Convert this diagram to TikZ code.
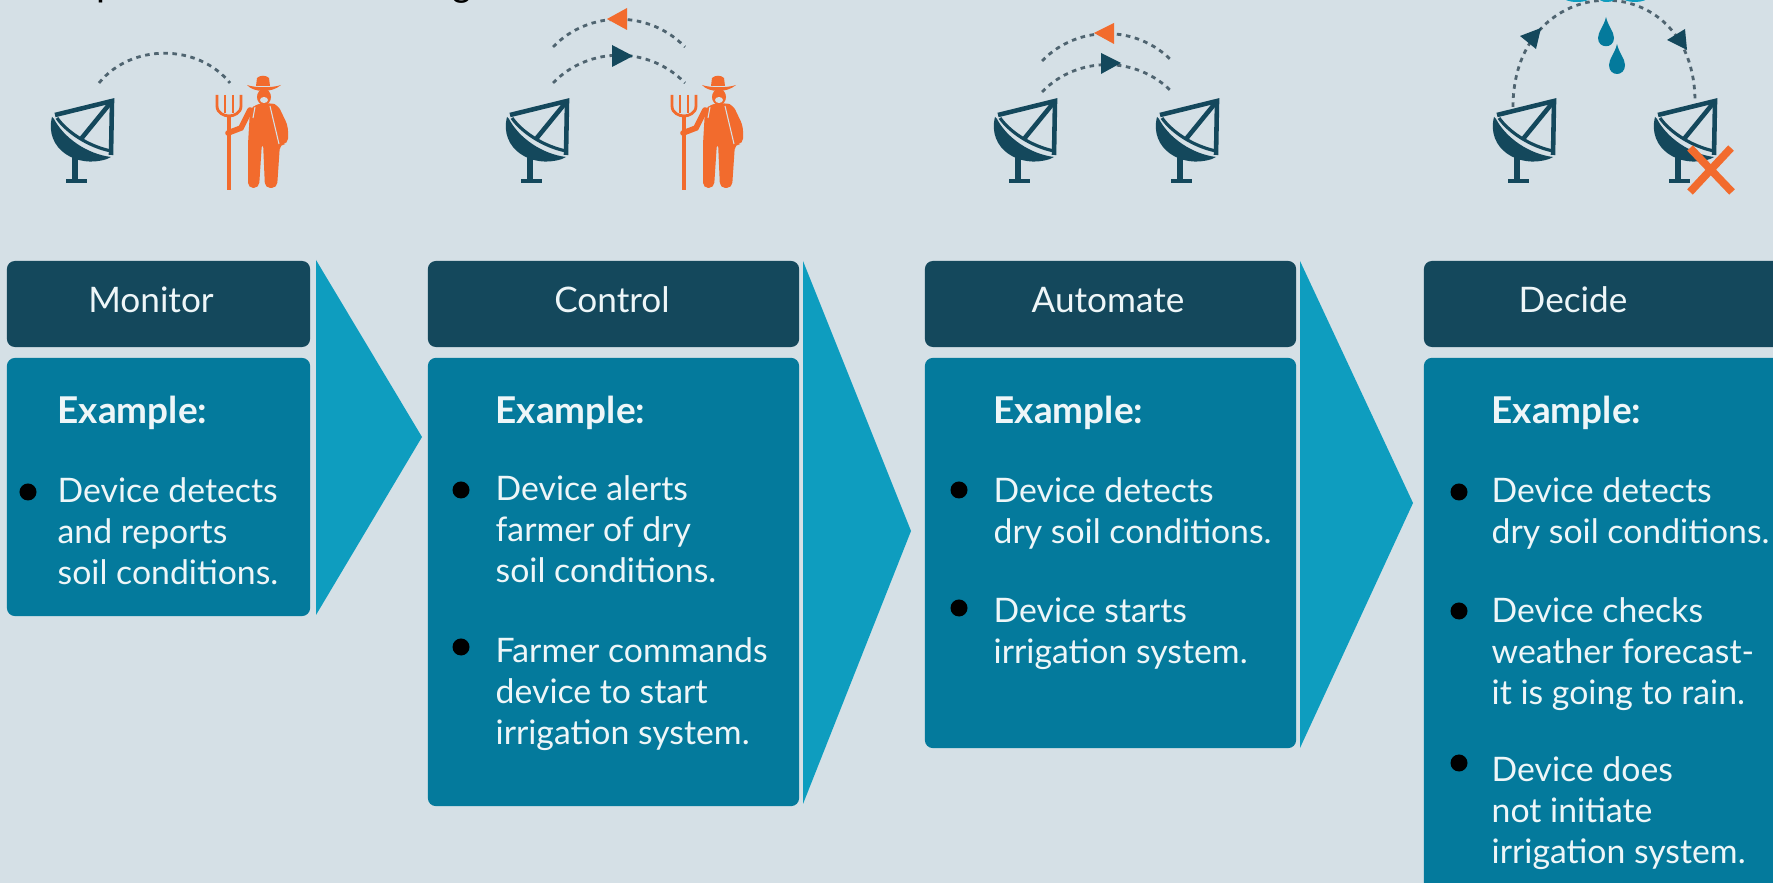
\documentclass[tikz,border=0pt]{standalone}
\usepackage{fontspec}
\setmainfont{Lato}
\newfontfamily\topfont{Carlito}
\definecolor{bgcol}{HTML}{D5E0E6}
\definecolor{hdrcol}{HTML}{14485C}
\definecolor{bodycol}{HTML}{047A9C}
\definecolor{chevcol}{HTML}{0E9DBF}
\definecolor{orangecol}{HTML}{F26B2D}
\definecolor{arccol}{HTML}{4F6470}
\definecolor{textcol}{HTML}{EEF6F8}
\tikzset{
  hdrbox/.style={rectangle, fill=hdrcol, rounded corners=0.08cm, minimum height=0.86cm, inner sep=0pt},
  bodybox/.style={rectangle, fill=bodycol, rounded corners=0.08cm, inner sep=0pt},
  hdrtext/.style={text=textcol, font=\fontsize{10}{12}\selectfont, inner sep=0pt},
  extext/.style={text=textcol, font=\fontsize{10.5}{12}\bfseries\selectfont, anchor=base west, inner sep=0pt},
  itemtext/.style={text=textcol, font=\fontsize{9.6}{11.6}\selectfont, anchor=north west, align=left, inner sep=0pt},
  bulletdot/.style={circle, fill=black, minimum size=0.17cm, inner sep=0pt},
  arcline/.style={draw=arccol, line width=0.8pt, dash pattern=on 1.3pt off 1.3pt},
  dish/.pic={
    \draw[hdrcol, line width=1.3pt, line join=miter] (-57,14) -- (0,0) -- (-1,54);
    \draw[hdrcol, line width=1.3pt] (0,0) -- (-31,38);
    \draw[hdrcol, line width=0.9pt] (-55,17) .. controls (-46,30) and (-25,45) .. (-1,50);
    \fill[hdrcol] (-60,16) .. controls (-68,48) and (-35,68) .. (-5,58) -- (-1,56) .. controls (-25,53) and (-48,37) .. (-58,18) -- cycle;
    \draw[hdrcol, line width=1.7pt] (-37,55) -- (-37,79);
    \draw[hdrcol, line width=1.1pt] (-46,80) -- (-25,80);
  },
  farmer/.pic={
    % hat
    \fill[orangecol] (-7,10) -- (-6,2) .. controls (-3,-1) and (3,-1) .. (6,2) -- (7,10) -- cycle;
    \fill[orangecol] (-16,9) .. controls (-9,17) and (9,17) .. (18,9) .. controls (10,12) and (-8,12) .. (-16,9) -- cycle;
    % head
    \fill[orangecol] (1,21) ellipse (7 and 8);
    \fill[bgcol] (1,24) ellipse (4 and 3);
    % body
    \fill[orangecol, rounded corners=1.5pt] (-7,28) -- (-13,34) -- (-15,68) -- (-15,112) -- (-4,112) -- (-1,66) -- (0,66) -- (2,112) -- (14,112) -- (17,68) -- (25,68) -- (25,50) -- (15,29) -- (7,27) -- cycle;
    \draw[bgcol, line width=0.3pt] (7,30) -- (16,68);
    \draw[bgcol, line width=0.3pt] (-8,31) -- (-10,42);
    % arm
    \draw[orangecol, line width=1.6pt, line cap=round] (-13,34) -- (-22,52) -- (-35,57);
    % fork
    \draw[orangecol, line width=0.9pt] (-34,40) -- (-34,114);
    \draw[orangecol, line width=0.8pt] (-46,19) -- (-46,30) .. controls (-46,37) and (-39,40) .. (-34,40) .. controls (-29,40) and (-22,37) .. (-22,30) -- (-22,19);
    \draw[orangecol, line width=0.8pt] (-38,19) -- (-38,37);
    \draw[orangecol, line width=0.8pt] (-30,19) -- (-30,37);
  }
}

\begin{document}
\begin{tikzpicture}[x=0.01cm, y=-0.01cm]
  \useasboundingbox (0,0) rectangle (1773,883);
  \clip (0,0) rectangle (1773,883);
  \fill[bgcol] (0,0) rectangle (1773,883);

  % cut off title line
  \node[font=\topfont\fontsize{11.4}{13}\selectfont, anchor=base, inner sep=0pt] (toppee) at (107,-3) {p};
  \node[font=\topfont\fontsize{11.4}{13}\selectfont, anchor=base, inner sep=0pt] (topgee) at (462,-3) {g};

  % monitor
  \pic (dish1) at (112,101) {dish};
  \pic (farmer1) at (263,76) {farmer};
  \coordinate (arc1a) at (99,83);
  \coordinate (arc1b) at (230,83);
  \path[arcline] (arc1a) to[bend left=51] (arc1b);

  \node[hdrbox, minimum width=3.03cm] (hdr1) at (158.5,304) {};
  \node[hdrtext] (hdrlabel1) at (151,300) {Monitor};
  \node[bodybox, minimum width=3.03cm, minimum height=2.58cm] (body1) at (158.5,487) {};
  \node[extext] (ex1) at (57,424) {Example:};
  \node[bulletdot] (bul1a) at (28,492) {};
  \node[itemtext] (item1a) at (57,477) {Device detects\\and reports\\soil conditions.};
  \fill[chevcol] (316,260) -- (422,437) -- (316,615) -- cycle;

  % control
  \pic (dish2) at (567,101) {dish};
  \pic (farmer2) at (718,76) {farmer};
  \coordinate (arc2a) at (553,83);
  \coordinate (arc2b) at (685,83);
  \coordinate (arc2c) at (553,47);
  \coordinate (arc2d) at (685,47);
  \path[arcline] (arc2a) to[bend left=46] (arc2b);
  \path[arcline] (arc2c) to[bend left=46] (arc2d);
  \fill[hdrcol] (612,45) -- (633,56) -- (612,67) -- cycle;
  \fill[orangecol] (607,19) -- (627,8) -- (627,30) -- cycle;

  \node[hdrbox, minimum width=3.71cm] (hdr2) at (613.5,304) {};
  \node[hdrtext] (hdrlabel2) at (612,300) {Control};
  \node[bodybox, minimum width=3.71cm, minimum height=4.48cm] (body2) at (613.5,582) {};
  \node[extext] (ex2) at (495,424) {Example:};
  \node[bulletdot] (bul2a) at (461,490) {};
  \node[itemtext] (item2a) at (495,475) {Device alerts\\farmer of dry\\soil conditions.};
  \node[bulletdot] (bul2b) at (461,647) {};
  \node[itemtext] (item2b) at (495,637) {Farmer commands\\device to start\\irrigation system.};
  \fill[chevcol] (803,261) -- (911,531) -- (803,804) -- cycle;

  % automate
  \pic (dish3) at (1055,101) {dish};
  \pic (dish4) at (1217,101) {dish};
  \coordinate (arc3a) at (1042,92);
  \coordinate (arc3b) at (1172,92);
  \coordinate (arc3c) at (1042,61);
  \coordinate (arc3d) at (1172,61);
  \path[arcline] (arc3a) to[bend left=46] (arc3b);
  \path[arcline] (arc3c) to[bend left=46] (arc3d);
  \fill[hdrcol] (1101,53) -- (1121,63) -- (1101,74) -- cycle;
  \fill[orangecol] (1094,33) -- (1114,23) -- (1114,44) -- cycle;

  \node[hdrbox, minimum width=3.71cm] (hdr3) at (1110.5,304) {};
  \node[hdrtext] (hdrlabel3) at (1108,300) {Automate};
  \node[bodybox, minimum width=3.71cm, minimum height=3.90cm] (body3) at (1110.5,553) {};
  \node[extext] (ex3) at (993,424) {Example:};
  \node[bulletdot] (bul3a) at (959,490) {};
  \node[itemtext] (item3a) at (993,477) {Device detects\\dry soil conditions.};
  \node[bulletdot] (bul3b) at (959,608) {};
  \node[itemtext] (item3b) at (993,597) {Device starts\\irrigation system.};
  \fill[chevcol] (1300,261) -- (1413,503) -- (1300,748) -- cycle;

  % decide
  \pic (dish5) at (1554,101) {dish};
  \pic (dish6) at (1715,101) {dish};
  \coordinate (arc4a) at (1513,107);
  \coordinate (arc4b) at (1695,102);
  \path[arcline] (arc4a) to[out=90, in=90, looseness=1.95] (arc4b);
  \fill[hdrcol] (1520,36) -- (1541,28) -- (1536,49) -- cycle;
  \fill[hdrcol] (1667,40) -- (1685,29) -- (1687,50) -- cycle;

  % rain
  \fill[chevcol] (1577,-3) ellipse (14 and 5);
  \fill[chevcol] (1607,-3) ellipse (9 and 5);
  \fill[chevcol] (1635,-3) ellipse (13 and 5);
  \fill[bodycol] (1606,17) .. controls (1604,26) and (1598,32) .. (1598,38) .. controls (1598,49) and (1614,49) .. (1614,38) .. controls (1614,32) and (1608,26) .. (1606,17) -- cycle;
  \fill[bodycol] (1617,44) .. controls (1615,53) and (1609,59) .. (1609,65) .. controls (1609,77) and (1625,77) .. (1625,65) .. controls (1625,59) and (1619,53) .. (1617,44) -- cycle;

  % cross
  \draw[orangecol, line width=2.2pt] (1690,192) -- (1731,148);
  \draw[orangecol, line width=2.2pt] (1690,148) -- (1732,192);

  \node[hdrbox, minimum width=3.76cm] (hdr4) at (1612,304) {};
  \node[hdrtext] (hdrlabel4) at (1573,300) {Decide};
  \node[bodybox, minimum width=3.76cm, minimum height=5.42cm] (body4) at (1612,629) {};
  \node[extext] (ex4) at (1491,424) {Example:};
  \node[bulletdot] (bul4a) at (1459,492) {};
  \node[itemtext] (item4a) at (1491,477) {Device detects\\dry soil conditions.};
  \node[bulletdot] (bul4b) at (1459,611) {};
  \node[itemtext] (item4b) at (1491,597) {Device checks\\weather forecast-\\it is going to rain.};
  \node[bulletdot] (bul4c) at (1459,763) {};
  \node[itemtext] (item4c) at (1491,756) {Device does\\not initiate\\irrigation system.};
\end{tikzpicture}
\end{document}
